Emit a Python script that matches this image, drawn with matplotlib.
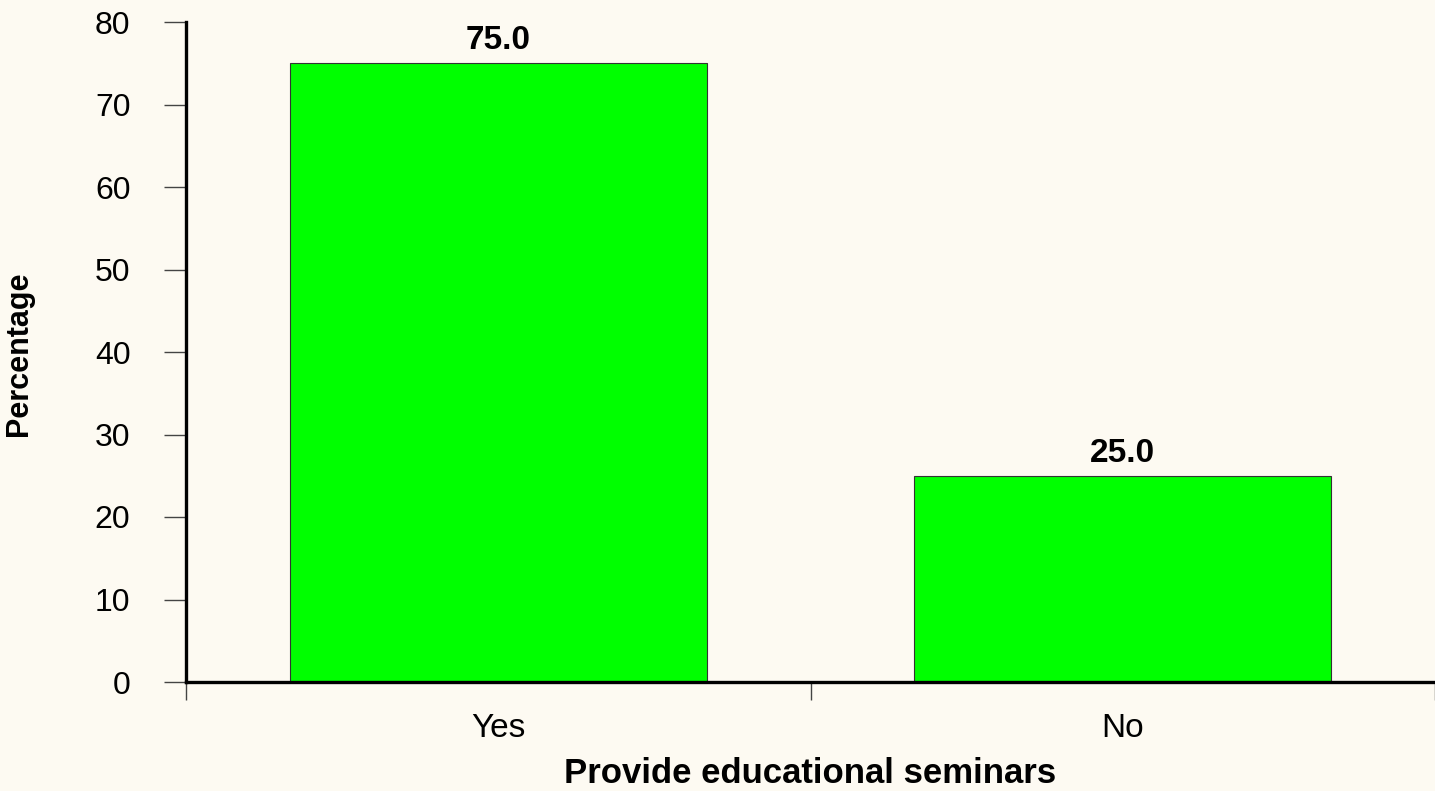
import matplotlib.pyplot as plt
import numpy as np

# survey result: provide educational seminars
categories = ["Yes", "No"]
percentages = [75.0, 25.0]
y_ticks = [0, 10, 20, 30, 40, 50, 60, 70, 80]

BG = "#FDFAF2"
BAR_GREEN = "#00FF00"

plt.rcParams["font.family"] = ["Liberation Sans", "DejaVu Sans"]

fig = plt.figure(figsize=(14.35, 7.91), dpi=100, facecolor=BG)
ax = fig.add_axes([186 / 1435, 109 / 791, 1249 / 1435, 660 / 791])
ax.set_facecolor(BG)

x = np.arange(len(categories))
bars = ax.bar(x, percentages, width=0.668, color=BAR_GREEN,
              edgecolor="#333333", linewidth=0.8, zorder=2)
ax.bar_label(bars, fmt="%.1f", padding=5, fontsize=24, fontweight="bold")

ax.set_xlim(-0.5, 1.48)
ax.set_ylim(0, 80)

# y axis
ax.set_yticks(y_ticks)
ax.tick_params(axis="y", direction="out", length=16, width=1.0,
               color="#444444", labelsize=23, pad=24)

# x axis: boundary ticks as marks, category names as minor labels
ax.set_xticks(np.arange(len(categories) + 1) - 0.5)
ax.set_xticklabels([])
ax.set_xticks(x, minor=True)
ax.set_xticklabels(categories, minor=True)
ax.tick_params(axis="x", which="major", direction="out", length=13,
               width=1.0, color="#444444")
ax.tick_params(axis="x", which="minor", length=0, labelsize=24, pad=22)

for side in ("top", "right"):
    ax.spines[side].set_visible(False)
for side in ("left", "bottom"):
    ax.spines[side].set_linewidth(2.4)
    ax.spines[side].set_color("black")

ax.set_xlabel("Provide educational seminars", fontsize=25,
              fontweight="bold", labelpad=10)
ax.set_ylabel("Percentage", fontsize=22, fontweight="bold")
ax.yaxis.set_label_coords(-0.1215, 0.497)

fig.savefig("out.png", dpi=100, facecolor=BG)
